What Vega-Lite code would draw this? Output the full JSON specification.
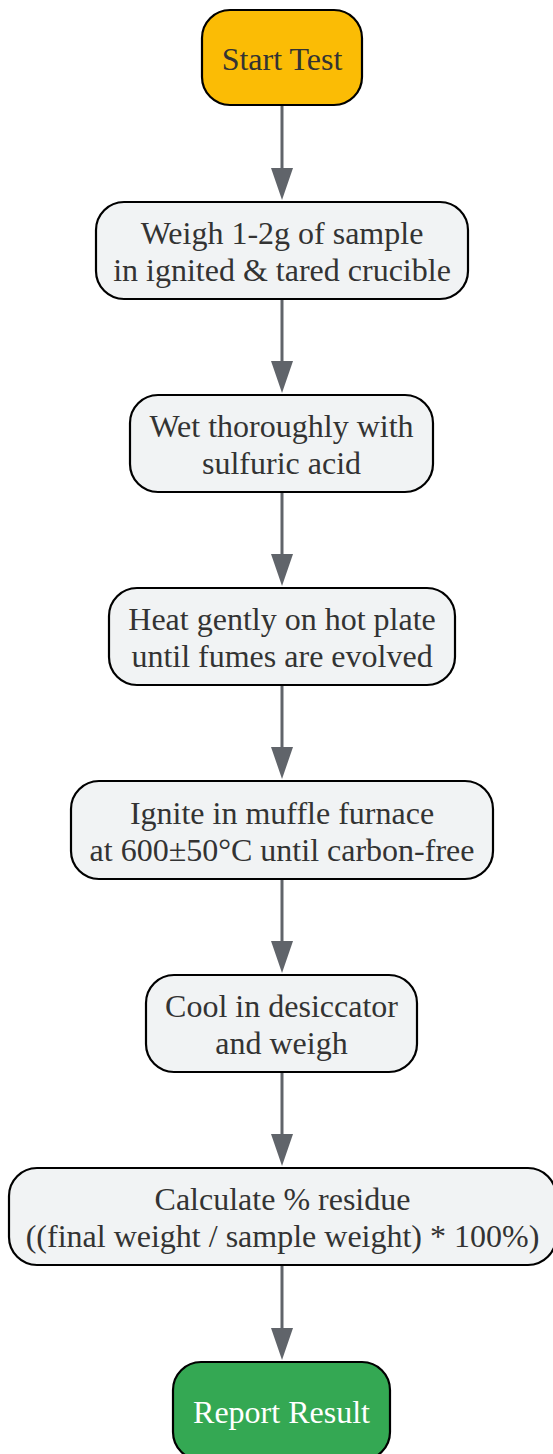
{
  "$schema": "https://vega.github.io/schema/vega-lite/v6.json",
  "width": 553,
  "height": 1454,
  "padding": 0,
  "autosize": "none",
  "background": "white",
  "config": {"view": {"stroke": null}},
  "datasets": {
    "nodes": [
      {"label": "Start Test", "kind": "start", "x1": 202, "x2": 362, "y1": 10, "y2": 105},
      {"label": "Weigh 1-2g of sample\nin ignited & tared crucible", "kind": "step", "x1": 96, "x2": 468, "y1": 202, "y2": 299},
      {"label": "Wet thoroughly with\nsulfuric acid", "kind": "step", "x1": 130, "x2": 433, "y1": 395, "y2": 492},
      {"label": "Heat gently on hot plate\nuntil fumes are evolved", "kind": "step", "x1": 109, "x2": 455, "y1": 588, "y2": 685},
      {"label": "Ignite in muffle furnace\nat 600±50°C until carbon-free", "kind": "step", "x1": 71, "x2": 493, "y1": 781, "y2": 879},
      {"label": "Cool in desiccator\nand weigh", "kind": "step", "x1": 146, "x2": 417, "y1": 975, "y2": 1072},
      {"label": "Calculate % residue\n((final weight / sample weight) * 100%)", "kind": "step", "x1": 9, "x2": 556, "y1": 1168, "y2": 1265},
      {"label": "Report Result", "kind": "end", "x1": 173, "x2": 390, "y1": 1362, "y2": 1460}
    ],
    "edges": [
      {"x": 282, "from": 106, "to": 172, "head": 184},
      {"x": 282, "from": 300, "to": 365, "head": 377},
      {"x": 282, "from": 493, "to": 558, "head": 570},
      {"x": 282, "from": 686, "to": 751, "head": 763},
      {"x": 282, "from": 880, "to": 945, "head": 957},
      {"x": 282, "from": 1073, "to": 1138, "head": 1150},
      {"x": 282, "from": 1266, "to": 1332, "head": 1344}
    ]
  },
  "resolve": {"scale": {"x": "shared", "y": "shared"}},
  "layer": [
    {
      "data": {"name": "edges"},
      "mark": {"type": "rule", "color": "#60646a", "strokeWidth": 3},
      "encoding": {
        "x": {"field": "x", "type": "quantitative", "scale": {"domain": [0, 553], "nice": false, "zero": false}, "axis": null},
        "y": {"field": "from", "type": "quantitative", "scale": {"domain": [0, 1454], "nice": false, "zero": false, "reverse": true}, "axis": null},
        "y2": {"field": "to"}
      }
    },
    {
      "data": {"name": "edges"},
      "mark": {"type": "point", "shape": "M-0.6875,-1L0.6875,-1L0,1Z", "filled": true, "color": "#60646a", "size": 1024, "opacity": 1},
      "encoding": {
        "x": {"field": "x", "type": "quantitative", "scale": {"domain": [0, 553], "nice": false, "zero": false}, "axis": null},
        "y": {"field": "head", "type": "quantitative", "scale": {"domain": [0, 1454], "nice": false, "zero": false, "reverse": true}, "axis": null}
      }
    },
    {
      "data": {"name": "nodes"},
      "mark": {"type": "rect", "cornerRadius": 28, "stroke": "#000000", "strokeWidth": 2.2, "clip": false},
      "encoding": {
        "x": {"field": "x1", "type": "quantitative", "scale": {"domain": [0, 553], "nice": false, "zero": false}, "axis": null},
        "x2": {"field": "x2"},
        "y": {"field": "y1", "type": "quantitative", "scale": {"domain": [0, 1454], "nice": false, "zero": false, "reverse": true}, "axis": null},
        "y2": {"field": "y2"},
        "fill": {"field": "kind", "type": "nominal", "scale": {"domain": ["start", "step", "end"], "range": ["#FBBC05", "#F1F3F4", "#34A853"]}, "legend": null}
      }
    },
    {
      "data": {"name": "nodes"},
      "transform": [
        {"calculate": "(datum.x1 + datum.x2) / 2", "as": "cx"},
        {"calculate": "(datum.y1 + datum.y2) / 2 + 2 - (indexof(datum.label, '\\n') >= 0 ? 18.5 : 0)", "as": "ty"}
      ],
      "mark": {"type": "text", "font": "Liberation Serif", "fontSize": 32, "lineBreak": "\n", "lineHeight": 37, "align": "center", "baseline": "middle"},
      "encoding": {
        "x": {"field": "cx", "type": "quantitative", "scale": {"domain": [0, 553], "nice": false, "zero": false}, "axis": null},
        "y": {"field": "ty", "type": "quantitative", "scale": {"domain": [0, 1454], "nice": false, "zero": false, "reverse": true}, "axis": null},
        "text": {"field": "label"},
        "color": {"field": "kind", "type": "nominal", "scale": {"domain": ["start", "step", "end"], "range": ["#333333", "#333333", "#FFFFFF"]}, "legend": null}
      }
    }
  ]
}
